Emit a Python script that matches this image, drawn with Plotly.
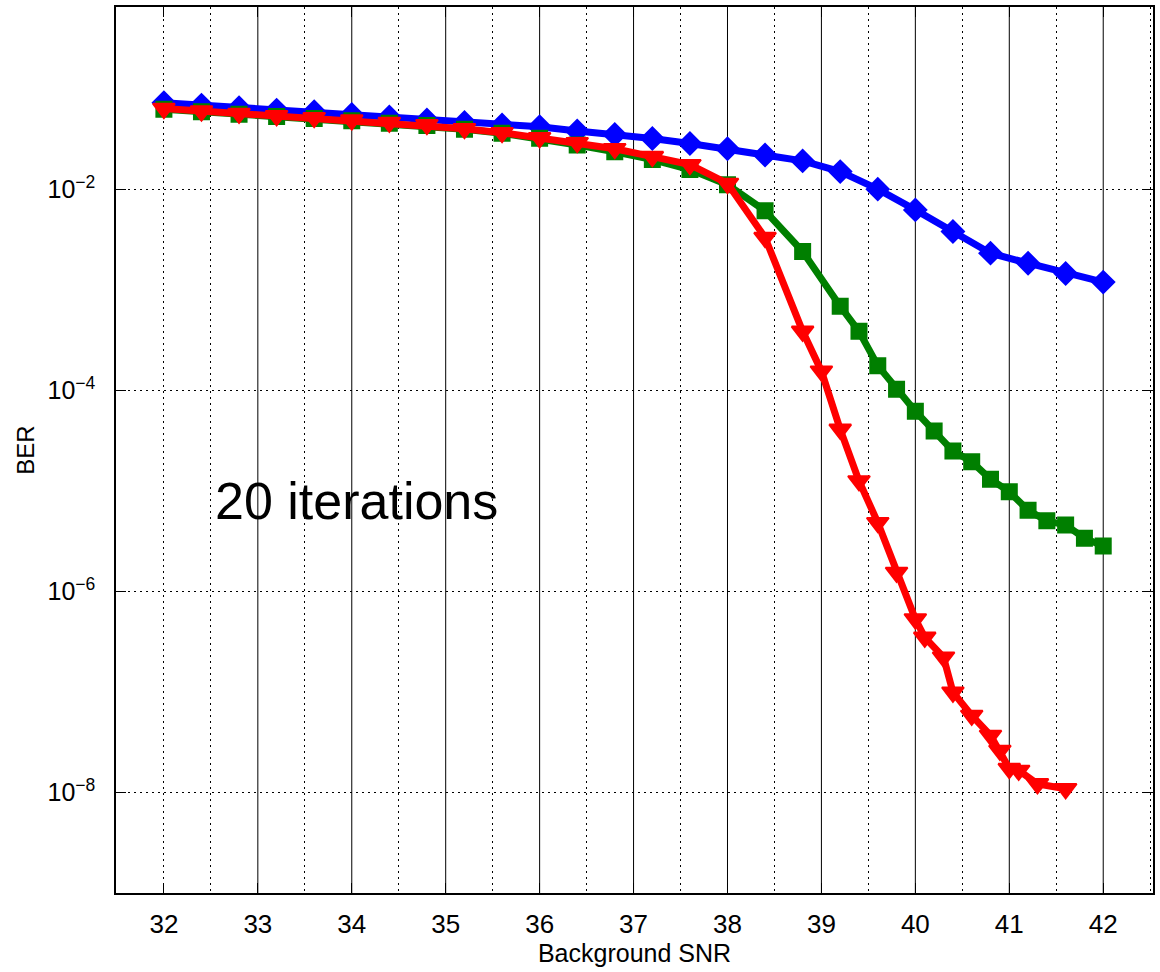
import plotly.graph_objects as go

# Bit error rate versus background SNR for three decoder configurations
snr_blue = [32.0, 32.4, 32.8, 33.2, 33.6, 34.0, 34.4, 34.8, 35.2, 35.6, 36.0, 36.4, 36.8,
            37.2, 37.6, 38.0, 38.4, 38.8, 39.2, 39.6, 40.0, 40.4, 40.8, 41.2, 41.6, 42.0]
ber_blue = [0.0731, 0.0693, 0.0652, 0.0618, 0.0596, 0.0560, 0.0527, 0.0492, 0.0466, 0.0439,
            0.0423, 0.0383, 0.0354, 0.0323, 0.0288, 0.0255, 0.0221, 0.0193, 0.0151, 0.0101,
            0.00628, 0.00383, 0.00233, 0.00185, 0.00146, 0.00120]

snr_green = [32.0, 32.4, 32.8, 33.2, 33.6, 34.0, 34.4, 34.8, 35.2, 35.6, 36.0, 36.4, 36.8,
             37.2, 37.6, 38.0, 38.4, 38.8, 39.2, 39.4, 39.6, 39.8, 40.0, 40.2, 40.4, 40.6,
             40.8, 41.0, 41.2, 41.4, 41.6, 41.8, 42.0]
ber_green = [0.0631, 0.0596, 0.0562, 0.0535, 0.0511, 0.0484, 0.0457, 0.0435, 0.0398, 0.0363,
             0.0324, 0.0278, 0.0238, 0.0199, 0.0158, 0.0112, 0.00614, 0.00242, 6.89e-4,
             3.89e-4, 1.77e-4, 1.03e-4, 6.24e-5, 3.95e-5, 2.50e-5, 1.96e-5, 1.31e-5,
             9.86e-6, 6.44e-6, 5.05e-6, 4.60e-6, 3.40e-6, 2.84e-6]

snr_red = [32.0, 32.4, 32.8, 33.2, 33.6, 34.0, 34.4, 34.8, 35.2, 35.6, 36.0, 36.4, 36.8,
           37.2, 37.6, 38.0, 38.4, 38.8, 39.0, 39.2, 39.4, 39.6, 39.8, 40.0, 40.1, 40.3,
           40.4, 40.6, 40.8, 40.9, 41.0, 41.1, 41.3, 41.6]
ber_red = [0.0641, 0.0605, 0.0573, 0.0543, 0.0519, 0.0492, 0.0466, 0.0442, 0.0404, 0.0368,
           0.0328, 0.0293, 0.0255, 0.0213, 0.0177, 0.0115, 0.00333, 3.89e-4, 1.56e-4,
           4.11e-5, 1.26e-5, 4.85e-6, 1.55e-6, 5.33e-7, 3.50e-7, 2.22e-7, 9.95e-8,
           5.85e-8, 3.70e-8, 2.62e-8, 1.73e-8, 1.66e-8, 1.22e-8, 1.09e-8]

x_ticks = list(range(32, 43))
x_solid_grid = list(range(33, 43))
x_dotted_grid = [32.0] + [v + 0.5 for v in range(32, 43)]
y_ticks = [1e-8, 1e-6, 1e-4, 1e-2]
y_tick_text = ["10<sup>\u22128</sup>", "10<sup>\u22126</sup>",
               "10<sup>\u22124</sup>", "10<sup>\u22122</sup>"]

axis_font = "Liberation Sans, Arial, Helvetica, sans-serif"

series = [
    (snr_blue, ber_blue, "#0000ff", "diamond", 17),
    (snr_green, ber_green, "#007f00", "square", 15),
    (snr_red, ber_red, "#ff0000", "triangle-down", 19),
]

fig = go.Figure()
for xs, ys, color, symbol, size in series:
    fig.add_trace(go.Scatter(
        x=xs, y=ys, mode="lines+markers",
        line=dict(color=color, width=7),
        marker=dict(symbol=symbol, size=size, color=color,
                    line=dict(color=color, width=2)),
        showlegend=False,
    ))

# solid vertical rules at the integer SNR values
for xv in x_solid_grid:
    fig.add_shape(type="line", xref="x", yref="paper", x0=xv, x1=xv, y0=0, y1=1,
                  line=dict(color="black", width=1), layer="below")

fig.add_annotation(
    text="20 iterations", xref="paper", yref="paper", x=0.0935, y=0.4426,
    xanchor="left", yanchor="middle", showarrow=False,
    font=dict(family="Liberation Sans, Arial, sans-serif", size=52, color="black"),
)

fig.update_layout(
    width=1160, height=972,
    margin=dict(l=116, r=7, t=5, b=79),
    paper_bgcolor="white", plot_bgcolor="white",
    font=dict(family=axis_font, color="black"),
    xaxis=dict(
        range=[31.49, 42.53], tickvals=x_ticks, ticktext=[str(v) for v in x_ticks],
        ticks="inside", ticklen=10, tickcolor="black", tickwidth=1,
        showline=True, linecolor="black", linewidth=1.5, mirror="ticks",
        showgrid=False, zeroline=False,
        tickfont=dict(size=26), ticklabelstandoff=7,
        title=dict(text="Background SNR", font=dict(size=25), standoff=5),
        minor=dict(tickvals=x_dotted_grid, showgrid=True, gridcolor="black",
                   gridwidth=1, griddash="1.5px,4.5px", ticklen=0),
    ),
    yaxis=dict(
        type="log", range=[-9.0, -0.183], tickvals=y_ticks, ticktext=y_tick_text,
        ticks="inside", ticklen=10, tickcolor="black", tickwidth=1,
        showline=True, linecolor="black", linewidth=1.5, mirror="ticks",
        showgrid=True, gridcolor="black", gridwidth=1, griddash="1.5px,4.5px",
        zeroline=False,
        tickfont=dict(size=25), ticklabelstandoff=14,
        title=dict(text="BER", font=dict(size=24), standoff=6),
    ),
)

fig.write_html("out.html")
